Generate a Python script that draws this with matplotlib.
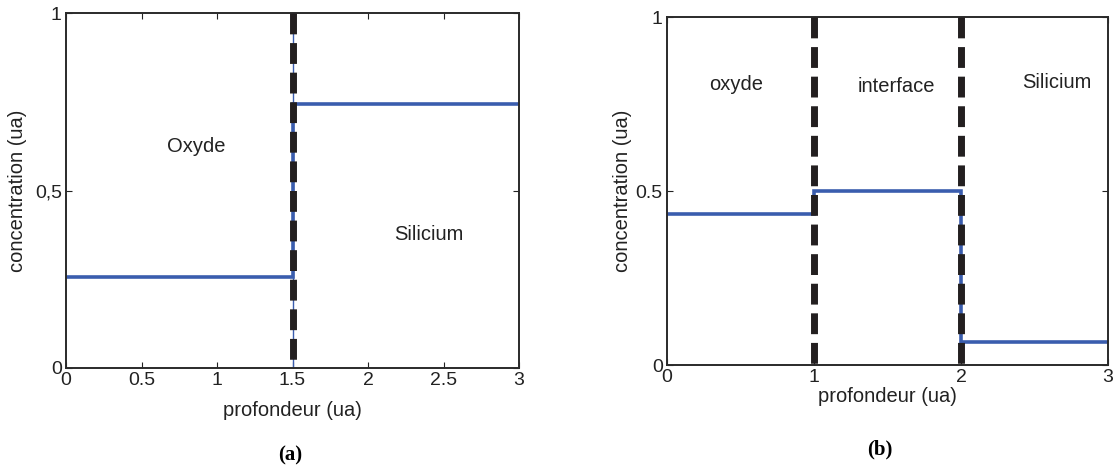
import matplotlib.pyplot as plt

plt.rcParams['font.family'] = ['Liberation Sans', 'DejaVu Sans']
plt.rcParams['lines.scale_dashes'] = False

# panel (a): two regions
edges_a = [0, 1.5, 3]
levels_a = [0.255, 0.745]
bounds_a = [1.5]
xticks_a = [0, 0.5, 1, 1.5, 2, 2.5, 3]
xticklabels_a = ['0', '0.5', '1', '1.5', '2', '2.5', '3']
yticks_a = [0, 0.5, 1]
yticklabels_a = ['0', '0,5', '1']
labels_a = ['Oxyde', 'Silicium']
label_pos_a = [(0.86, 0.625), (2.4, 0.375)]

# panel (b): three regions
edges_b = [0, 1, 2, 3]
levels_b = [0.434, 0.5, 0.066]
bounds_b = [1, 2]
xticks_b = [0, 1, 2, 3]
xticklabels_b = ['0', '1', '2', '3']
yticks_b = [0, 0.5, 1]
yticklabels_b = ['0', '0.5', '1']
labels_b = ['oxyde', 'interface', 'Silicium']
label_pos_b = [(0.47, 0.805), (1.56, 0.80), (2.65, 0.813)]

blue = '#3a5dae'
black = '#231f20'

fig = plt.figure(figsize=(11.17, 4.68), dpi=100)
ax0 = fig.add_axes([66 / 1117, 100 / 468, 453 / 1117, 355 / 468])
ax1 = fig.add_axes([667 / 1117, 103 / 468, 441 / 1117, 348 / 468])


def draw(ax, edges, levels, bounds, thin_blue):
    ax.stairs(levels, edges, color=blue, lw=2.6, baseline=None, zorder=2)
    for b in bounds:
        if thin_blue:
            ax.plot([b, b], [1, 0], color=blue, lw=1.0, zorder=2.5)
        ax.plot([b, b], [1, 0], color=black, lw=5.0, dashes=(15, 6.3),
                dash_capstyle='butt', zorder=3)
    ax.set_xlim(0, 3)
    ax.set_ylim(0, 1)
    ax.tick_params(direction='in', top=True, right=True, length=4,
                   width=0.8, labelsize=14, pad=3, colors='#222222')
    for s in ax.spines.values():
        s.set_linewidth(1.4)
        s.set_color('#2a2a2a')


draw(ax0, edges_a, levels_a, bounds_a, True)
ax0.set_xticks(xticks_a, xticklabels_a)
ax0.set_yticks(yticks_a, yticklabels_a)
ax0.set_xlabel('profondeur (ua)', fontsize=14.5, color='#222222')
ax0.set_ylabel('concentration (ua)', fontsize=14.5, color='#222222')
ax0.xaxis.set_label_coords(0.5, -0.093)
ax0.yaxis.set_label_coords(-0.086, 0.5)
for t, (x, y) in zip(labels_a, label_pos_a):
    ax0.text(x, y, t, fontsize=14.5, ha='center', va='center', color='#222222')

draw(ax1, edges_b, levels_b, bounds_b, False)
ax1.set_xticks(xticks_b, xticklabels_b)
ax1.set_yticks(yticks_b, yticklabels_b)
ax1.set_xlabel('profondeur (ua)', fontsize=14.5, color='#222222')
ax1.set_ylabel('concentration (ua)', fontsize=14.5, color='#222222')
ax1.xaxis.set_label_coords(0.5, -0.063)
ax1.yaxis.set_label_coords(-0.079, 0.5)
for t, (x, y) in zip(labels_b, label_pos_b):
    ax1.text(x, y, t, fontsize=14.5, ha='center', va='center', color='#222222')

fig.text(290 / 1117, 1 - 455 / 468, '(a)', fontsize=15, fontweight='bold',
         family='Liberation Serif', ha='center', va='center')
fig.text(880 / 1117, 1 - 449 / 468, '(b)', fontsize=15, fontweight='bold',
         family='Liberation Serif', ha='center', va='center')

fig.savefig('out.png', dpi=100)
